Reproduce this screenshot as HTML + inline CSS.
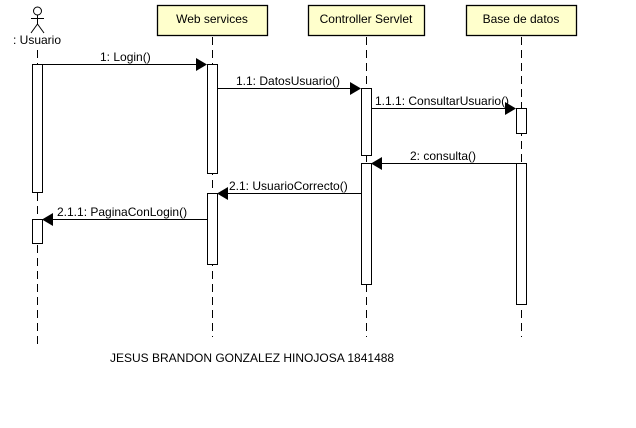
<!DOCTYPE html>
<html><head><meta charset="utf-8"><style>
html,body{margin:0;padding:0;background:#fff;width:636px;height:428px;overflow:hidden}
text{font-family:"Liberation Sans",Arial,sans-serif;font-size:12px;fill:#000}
</style></head><body>
<svg width="636" height="428" viewBox="0 0 636 428" xmlns="http://www.w3.org/2000/svg">
<g stroke="#000" stroke-width="1" fill="none">
<circle cx="37.5" cy="11" r="4"/>
<line x1="37.5" y1="15" x2="37.5" y2="24"/>
<line x1="31" y1="18.5" x2="44" y2="18.5"/>
<line x1="37.5" y1="24" x2="31" y2="33"/>
<line x1="37.5" y1="24" x2="44" y2="33"/>
</g>
<text x="37" y="44" text-anchor="middle">: Usuario</text>
<g stroke="#000" stroke-width="1.3" fill="#ffffcc">
<rect x="157.5" y="5.5" width="110" height="30"/>
<rect x="308.5" y="5.5" width="116" height="30"/>
<rect x="466.5" y="5.5" width="110" height="30"/>
</g>
<text x="212" y="23" text-anchor="middle">Web services</text>
<text x="366" y="23" text-anchor="middle">Controller Servlet</text>
<text x="521" y="23" text-anchor="middle">Base de datos</text>
<g stroke="#000" stroke-width="1" stroke-dasharray="8,5">
<line x1="37.5" y1="50" x2="37.5" y2="347"/>
<line x1="212.5" y1="37" x2="212.5" y2="337"/>
<line x1="366.5" y1="37" x2="366.5" y2="337"/>
<line x1="521.5" y1="37" x2="521.5" y2="337"/>
</g>
<g stroke="#000" stroke-width="1" fill="#fff">
<rect x="32.5" y="64.5" width="10" height="128"/>
<rect x="32.5" y="219.5" width="10" height="24"/>
<rect x="207.5" y="64.5" width="10" height="109"/>
<rect x="207.5" y="193.5" width="10" height="71"/>
<rect x="361.5" y="88.5" width="10" height="67"/>
<rect x="361.5" y="163.5" width="10" height="121"/>
<rect x="516.5" y="108.5" width="10" height="25"/>
<rect x="516.5" y="163.5" width="10" height="141"/>
</g>
<g stroke="#000" stroke-width="1">
<line x1="42" y1="64.5" x2="200" y2="64.5"/>
<line x1="217" y1="88.5" x2="354" y2="88.5"/>
<line x1="371" y1="108.5" x2="509" y2="108.5"/>
<line x1="516" y1="163.5" x2="378" y2="163.5"/>
<line x1="361" y1="193.5" x2="224" y2="193.5"/>
<line x1="207" y1="219.5" x2="49" y2="219.5"/>
</g>
<g fill="#000">
<polygon points="196,58 207,64.5 196,71"/>
<polygon points="350,82 361,88.5 350,95"/>
<polygon points="505,102 516,108.5 505,115"/>
<polygon points="382,157 371,163.5 382,170"/>
<polygon points="228,187 217,193.5 228,200"/>
<polygon points="53,213 42,219.5 53,226"/>
</g>
<text x="100" y="61">1: Login()</text>
<text x="236" y="85">1.1: DatosUsuario()</text>
<text x="375" y="105">1.1.1: ConsultarUsuario()</text>
<text x="410" y="160">2: consulta()</text>
<text x="229" y="190">2.1: UsuarioCorrecto()</text>
<text x="57" y="216">2.1.1: PaginaConLogin()</text>
<text x="110" y="362">JESUS BRANDON GONZALEZ HINOJOSA 1841488</text>
</svg>
</body></html>
